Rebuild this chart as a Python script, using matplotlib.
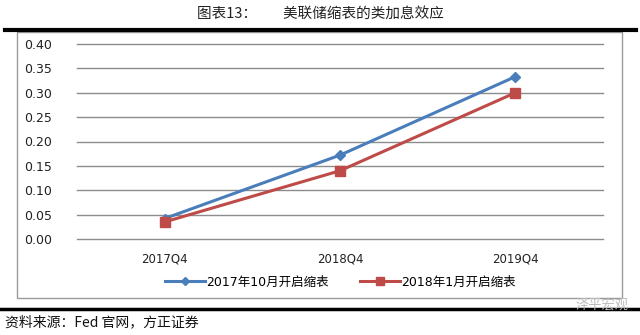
import matplotlib

matplotlib.use("Agg")
import matplotlib.pyplot as plt
from matplotlib.lines import Line2D
from matplotlib.patches import Rectangle

plt.rcParams["font.family"] = ["DejaVu Sans", "Noto Sans CJK SC"]

quarters = ["2017Q4", "2018Q4", "2019Q4"]
start_oct_2017 = [0.042, 0.172, 0.333]
start_jan_2018 = [0.035, 0.140, 0.300]
series_names = ["2017年10月开启缩表", "2018年1月开启缩表"]
y_ticks = [0.00, 0.05, 0.10, 0.15, 0.20, 0.25, 0.30, 0.35, 0.40]

W, H = 640, 335
fig = plt.figure(figsize=(W / 100, H / 100), dpi=100)


def fx(px):
    return px / W


def fy(py):
    return 1 - py / H


# title and frame decorations
fig.text(fx(320), fy(14), "图表13：        美联储缩表的类加息效应", ha="center", va="center",
         fontsize=10.5, color="#222222", family=["Noto Sans CJK SC"])
fig.add_artist(Line2D([fx(5), fx(636)], [fy(30), fy(30)], color="black", lw=3))
fig.add_artist(Rectangle((fx(17), fy(298)), fx(622) - fx(17), fy(32) - fy(298),
                         fill=False, edgecolor="#9a9a9a", lw=1))
fig.add_artist(Line2D([fx(0), fx(640)], [fy(309), fy(309)], color="black", lw=2.5))
fig.text(fx(5), fy(322), "资料来源：Fed 官网，方正证券", ha="left", va="center",
         fontsize=10, style="italic", color="#111111", family=["Noto Sans CJK SC"])
fig.text(fx(628), fy(305), "泽平宏观", ha="right", va="center", fontsize=9.5,
         color="#bbbbbb", family=["Noto Sans CJK SC"])

ax = fig.add_axes([fx(77), fy(239), fx(603) - fx(77), fy(44) - fy(239)])
x = range(len(quarters))
ax.plot(x, start_oct_2017, color="#4a7ebb", lw=2.2, marker="D", markersize=5,
        label=series_names[0], zorder=3)
ax.plot(x, start_jan_2018, color="#be4b48", lw=2.2, marker="s", markersize=7.5,
        label=series_names[1], zorder=3)

ax.set_xlim(-0.5, len(quarters) - 0.5)
ax.set_ylim(0, 0.40)
ax.set_yticks(y_ticks)
ax.set_yticklabels([f"{v:.2f}" for v in y_ticks], fontsize=9, color="#222222")
ax.set_xticks(list(x))
ax.set_xticklabels(quarters, fontsize=8.5, color="#222222")
ax.tick_params(length=0)
ax.tick_params(axis="x", pad=10)
ax.tick_params(axis="y", pad=18)
ax.grid(axis="y", color="#8c8c8c", lw=1)
for gl in ax.get_ygridlines():
    gl.set_clip_on(False)
ax.set_axisbelow(True)
for spine in ax.spines.values():
    spine.set_visible(False)

ax.legend(loc="center", bbox_to_anchor=(0.5, (fy(282) - fy(239)) / (fy(44) - fy(239))),
          bbox_transform=ax.transAxes, ncol=2, frameon=False, fontsize=9,
          handlelength=3.2, handletextpad=0.1, columnspacing=2.5, markerscale=0.8)

fig.savefig("out.png", dpi=100)
